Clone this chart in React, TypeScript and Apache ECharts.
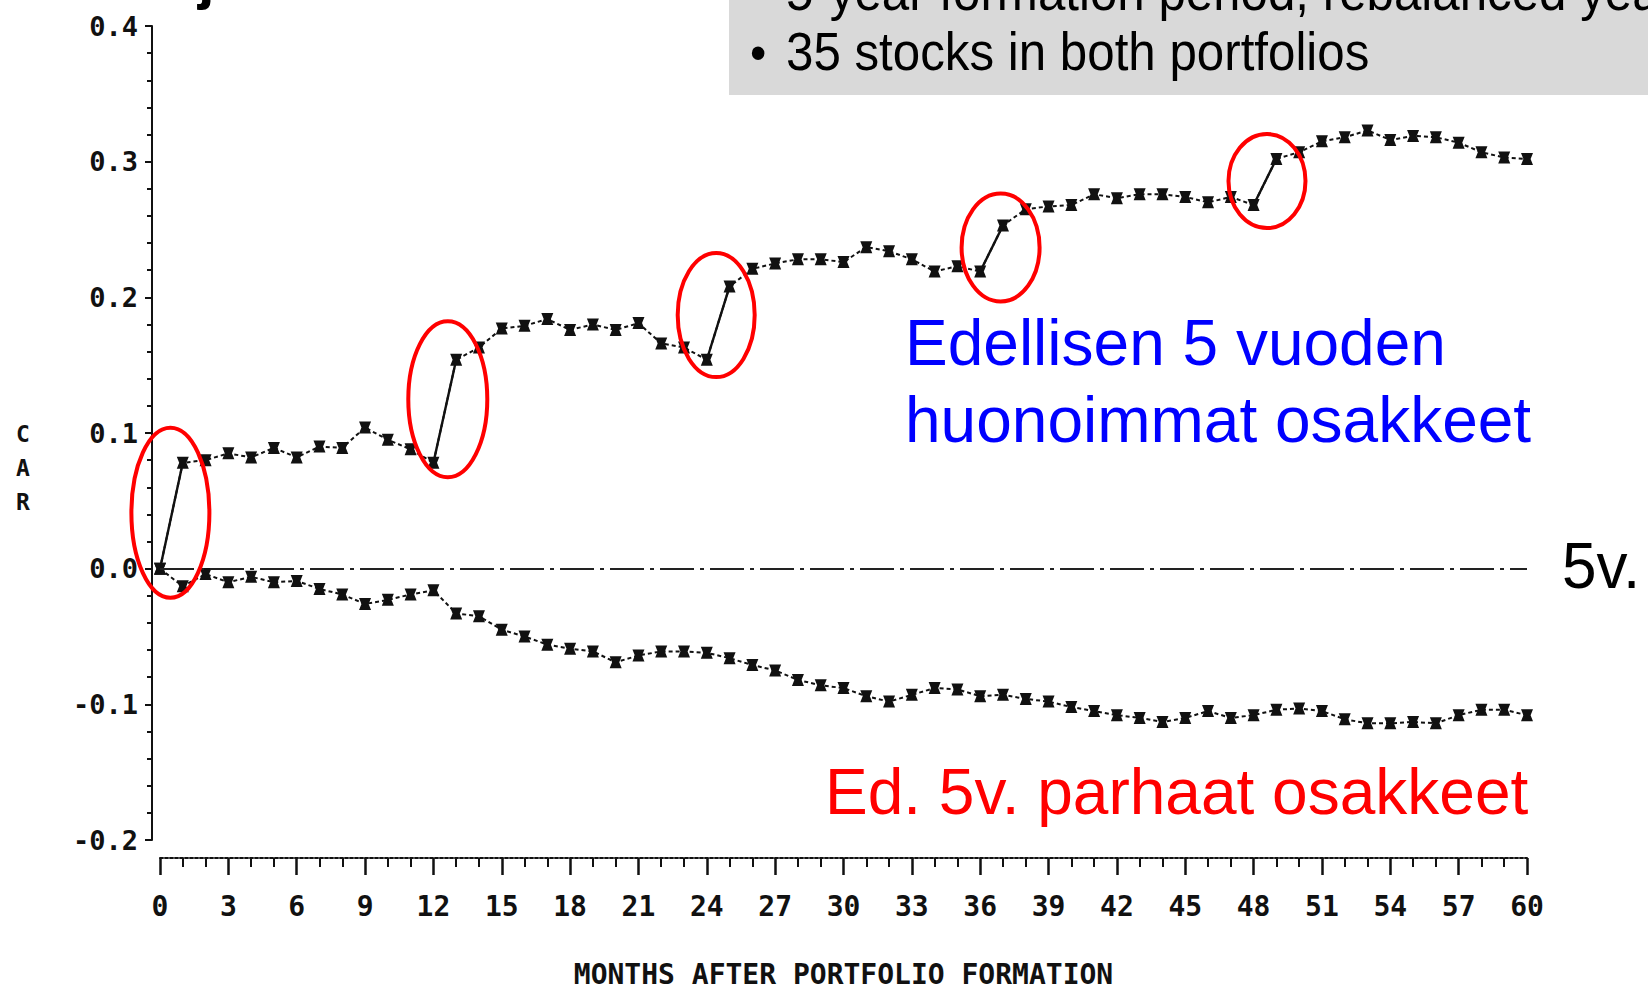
import React, { useEffect, useRef } from "react";
import * as echarts from "echarts";

// Months after portfolio formation
const months = [
  0, 1, 2, 3, 4, 5, 6, 7, 8, 9, 10, 11, 12, 13, 14, 15, 16, 17, 18, 19, 20,
  21, 22, 23, 24, 25, 26, 27, 28, 29, 30, 31, 32, 33, 34, 35, 36, 37, 38, 39, 40,
  41, 42, 43, 44, 45, 46, 47, 48, 49, 50, 51, 52, 53, 54, 55, 56, 57, 58, 59, 60,
];

// Loser portfolio (previous 5 years' worst stocks) — CAR
const losers = [
  0.0, 0.078, 0.08, 0.085, 0.082, 0.089, 0.082, 0.09, 0.089, 0.104, 0.095,
  0.088, 0.078, 0.154, 0.163, 0.177, 0.179, 0.184, 0.176, 0.18, 0.176,
  0.181, 0.166, 0.163, 0.154, 0.208, 0.221, 0.225, 0.228, 0.228, 0.226,
  0.237, 0.234, 0.228, 0.219, 0.223, 0.219, 0.253, 0.265, 0.267, 0.268,
  0.276, 0.273, 0.276, 0.276, 0.274, 0.27, 0.274, 0.268, 0.302, 0.307,
  0.315, 0.318, 0.323, 0.316, 0.319, 0.318, 0.314, 0.307, 0.303, 0.302,
];

// Winner portfolio (previous 5 years' best stocks) — CAR
const winners = [
  0.0, -0.013, -0.004, -0.01, -0.006, -0.01, -0.009, -0.015, -0.019, -0.026, -0.023,
  -0.019, -0.016, -0.033, -0.035, -0.045, -0.05, -0.056, -0.059, -0.061, -0.069,
  -0.064, -0.061, -0.061, -0.062, -0.066, -0.071, -0.075, -0.082, -0.086, -0.088,
  -0.094, -0.098, -0.093, -0.088, -0.089, -0.094, -0.093, -0.096, -0.098, -0.102,
  -0.105, -0.108, -0.11, -0.113, -0.11, -0.105, -0.11, -0.108, -0.104, -0.103,
  -0.105, -0.111, -0.114, -0.114, -0.113, -0.114, -0.108, -0.104, -0.104, -0.108,
];

// January jumps (circled)
const jumpMonths = [0, 12, 24, 36, 48];

const xAxisName = "MONTHS AFTER PORTFOLIO FORMATION";
const yAxisName = "C\nA\nR";
const loserLabel = ["Edellisen 5 vuoden", "huonoimmat osakkeet"];
const winnerLabel = "Ed. 5v. parhaat osakkeet";
const sideLabel = "5v.";
const bulletLines = ["5-year formation period, rebalanced yearly", "35 stocks in both portfolios"];

const MONO = "'DejaVu Sans Mono', monospace";
const SANS = "'Liberation Sans', Arial, sans-serif";

const ellipseStyle = [
  { rx: 39, ry: 85, dx: -1, dy: -3 },
  { rx: 39.5, ry: 78, dx: 3, dy: -12 },
  { rx: 38.5, ry: 62, dx: -2, dy: -8 },
  { rx: 39, ry: 54, dx: 9, dy: -1 },
  { rx: 38.5, ry: 47, dx: 2, dy: -1 },
];

function txt(x: number, y: number, text: string, o: any, extra: any = {}) {
  return {
    type: "text",
    x,
    y,
    ...extra,
    style: {
      text,
      x: 0,
      y: 0,
      align: o.align || "left",
      textAlign: o.align || "left",
      verticalAlign: "middle",
      textVerticalAlign: "middle",
      fontSize: o.fontSize,
      fontFamily: o.fontFamily || SANS,
      fontWeight: o.fontWeight || "normal",
      fill: o.fill || "#000",
      lineHeight: o.lineHeight,
    },
    z: 100,
  };
}

export default function App() {
  const ref = useRef<HTMLDivElement>(null);

  useEffect(() => {
    const chart = echarts.init(ref.current!, null, { renderer: "svg" });
    const sym = "path://M0,0H10L8,5L10,10H0L2,5Z";
    const toPairs = (vals: number[]) => months.map((m, i) => [m, vals[i]]);

    const jumpSeries = jumpMonths.map((m) => ({
      type: "line",
      data: [
        [months[m], losers[m]],
        [months[m + 1], losers[m + 1]],
      ],
      symbol: "none",
      silent: true,
      lineStyle: { color: "#111", width: 2.4, type: "solid" },
      z: 3,
    }));

    chart.setOption({
      animation: false,
      backgroundColor: "#fff",
      grid: { left: 160, right: 121, top: 26, bottom: 149, outerBoundsMode: "none", containLabel: false },
      xAxis: {
        type: "value",
        min: 0,
        max: 60,
        interval: 3,
        offset: 18,
        axisLine: { show: true, onZero: false, lineStyle: { color: "#111", width: 2, type: [3, 2] } },
        axisTick: { show: true, length: 17, lineStyle: { color: "#111", width: 2.5 } },
        minorTick: { show: true, splitNumber: 3, length: 9, lineStyle: { color: "#111", width: 2 } },
        splitLine: { show: false },
        minorSplitLine: { show: false },
        axisLabel: {
          margin: 34,
          color: "#111",
          fontFamily: MONO,
          fontWeight: "bold",
          fontSize: 28,
        },
        name: xAxisName,
        nameLocation: "middle",
        nameGap: 102,
        nameTextStyle: { color: "#111", fontFamily: MONO, fontWeight: "bold", fontSize: 28 },
      },
      yAxis: {
        type: "value",
        min: -0.2,
        max: 0.4,
        interval: 0.1,
        offset: 8,
        axisLine: { show: true, onZero: false, lineStyle: { color: "#111", width: 2 } },
        axisTick: { show: true, length: 7, lineStyle: { color: "#111", width: 2 } },
        minorTick: { show: true, splitNumber: 5, length: 5, lineStyle: { color: "#111", width: 2 } },
        splitLine: { show: false },
        minorSplitLine: { show: false },
        axisLabel: {
          margin: 14,
          color: "#111",
          fontFamily: MONO,
          fontWeight: "bold",
          fontSize: 27,
          formatter: (v: number) => v.toFixed(1),
        },
      },
      series: [
        {
          type: "line",
          name: "Losers",
          data: toPairs(losers),
          symbol: sym,
          symbolSize: 12,
          itemStyle: { color: "#111" },
          lineStyle: { color: "#111", width: 2, type: [4, 3] },
          z: 4,
          markLine: {
            silent: true,
            symbol: "none",
            label: { show: false },
            lineStyle: { color: "#222", width: 2, type: [34, 6, 4, 6] },
            data: [{ yAxis: 0 }],
          },
        },
        {
          type: "line",
          name: "Winners",
          data: toPairs(winners),
          symbol: sym,
          symbolSize: 12,
          itemStyle: { color: "#111" },
          lineStyle: { color: "#111", width: 2, type: [4, 3] },
          z: 4,
        },
        ...jumpSeries,
      ],
    });

    const ellipses = jumpMonths.map((m, i) => {
      const p = chart.convertToPixel({ gridIndex: 0 }, [
        months[m] + 0.5,
        (losers[m] + losers[m + 1]) / 2,
      ]) as number[];
      const e = ellipseStyle[i];
      return {
        type: "ellipse",
        shape: { cx: p[0] + e.dx, cy: p[1] + e.dy, rx: e.rx, ry: e.ry },
        style: { fill: "none", stroke: "#ff0000", lineWidth: 4 },
        z: 90,
      };
    });

    chart.setOption({
      graphic: [
        {
          type: "rect",
          shape: { x: 729, y: 0, width: 919, height: 95 },
          style: { fill: "#d9d9d9" },
          z: 1,
        },
        txt(750, -8, "\u2022", { fontSize: 50 }, { scaleX: 0.93 }),
        txt(786, -8, bulletLines[0], { fontSize: 53 }, { scaleX: 0.93 }),
        txt(750, 52, "\u2022", { fontSize: 50 }, { scaleX: 0.93 }),
        txt(786, 52, bulletLines[1], { fontSize: 53 }, { scaleX: 0.93 }),
        txt(198, -23, "j", { fontSize: 60, fontWeight: "bold" }),
        txt(905, 343, loserLabel[0], { fontSize: 64, fill: "#0000ff" }),
        txt(905, 420, loserLabel[1], { fontSize: 64, fill: "#0000ff" }),
        txt(825, 792, winnerLabel, { fontSize: 64, fill: "#ff0000" }),
        txt(1562, 566, sideLabel, { fontSize: 64 }, { scaleX: 0.97 }),
        txt(23, 468, yAxisName, {
          fontSize: 23,
          fontFamily: MONO,
          fontWeight: "bold",
          align: "center",
          lineHeight: 34,
          fill: "#111",
        }),
        ...ellipses,
      ],
    });

    return () => chart.dispose();
  }, []);

  return (
    <div
      ref={ref}
      style={{ position: "absolute", left: 0, top: 0, width: 1648, height: 989, background: "#fff" }}
    />
  );
}
